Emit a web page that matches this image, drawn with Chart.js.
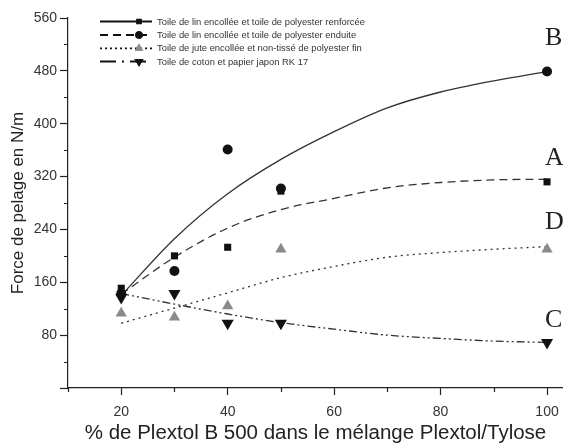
<!DOCTYPE html>
<html>
<head>
<meta charset="utf-8">
<script src="https://cdn.jsdelivr.net/npm/chart.js@4.4.0/dist/chart.umd.min.js"></script>
<style>
  html, body { margin: 0; padding: 0; background: #fff; }
  #wrap { width: 563px; height: 444px; position: relative; }
</style>
</head>
<body>
<div id="wrap"><canvas id="c" width="563" height="444"></canvas></div>
<script>
// ---- data ----
const xValues = [20, 30, 40, 50, 100];
const seriesRenforcee = [151, 200, 213, 298, 312];   // squares
const seriesEnduite   = [143, 177, 361, 302, 479];   // circles
const seriesJute      = [113, 107, 124, 210, 210];   // grey triangles
const seriesCoton     = [137, 143, 98, 98, 69];      // inverted triangles

const curveX = [20, 30, 40, 50, 60, 70, 80, 90, 100];
const curveB = [140, 226, 294, 346, 388, 424, 448, 465, 479];
const curveA = [142, 198, 242, 270, 287, 303, 311, 315, 316];
const curveD = [98, 121, 144, 167, 184, 198, 205, 210, 214];
const curveC = [143, 127, 112, 99, 89, 80, 75, 71, 69];

const curveLetters = ['B', 'A', 'D', 'C'];
const letterAnchorY = [530, 348, 251, 103];

const seriesLabels = [
  'Toile de lin encollée et toile de polyester renforcée',
  'Toile de lin encollée et toile de polyester enduite',
  'Toile de jute encollée et non-tissé de polyester fin',
  'Toile de coton et papier japon RK 17'
];

const xTickValues = [20, 40, 60, 80, 100];
const xMinorTicks = [10, 30, 50, 70, 90];
const yTickValues = [0, 80, 160, 240, 320, 400, 480, 560];
const yMinorTicks = [40, 120, 200, 280, 360, 440, 520];

const xTitle = '% de Plextol B 500 dans le mélange Plextol/Tylose';
const yTitle = 'Force de pelage en N/m';

// ---- styles ----
const AXIS = '#222';
const LINE = '#333';
const dashes = [[], [8, 5], [2, 4], [8, 3, 2, 3, 2, 3]];
const legendDashes = [[], [8, 5], [2, 3], [16, 6, 2, 6]];
const markerStyles = [
  { style: 'rect', rot: 0, color: '#111', r: 5 },
  { style: 'circle', rot: 0, color: '#111', r: 5 },
  { style: 'triangle', rot: 0, color: '#8a8a8a', r: 6.5 },
  { style: 'triangle', rot: 180, color: '#111', r: 7 }
];

function pts(xs, ys) { return xs.map((x, i) => ({ x: x, y: ys[i] })); }

const pointSeries = [seriesRenforcee, seriesEnduite, seriesJute, seriesCoton];
const curves = [curveB, curveA, curveD, curveC];

const datasets = [];
curves.forEach((cv, i) => {
  datasets.push({
    type: 'line',
    data: pts(curveX, cv),
    borderColor: LINE,
    borderWidth: 1.3,
    borderDash: dashes[i],
    pointRadius: 0,
    fill: false,
    cubicInterpolationMode: 'monotone',
    order: 2
  });
});
pointSeries.forEach((s, i) => {
  const m = markerStyles[i];
  datasets.push({
    type: 'scatter',
    label: seriesLabels[i],
    data: pts(xValues, s),
    showLine: false,
    pointStyle: m.style,
    rotation: m.rot,
    pointRadius: m.r,
    pointBackgroundColor: m.color,
    pointBorderColor: m.color,
    pointBorderWidth: 0,
    clip: false,
    order: 1
  });
});

const extrasPlugin = {
  id: 'extras',
  afterDraw(chart) {
    const ctx = chart.ctx;
    const xs = chart.scales.x, ys = chart.scales.y;
    const area = chart.chartArea;
    ctx.save();
    // minor ticks
    ctx.strokeStyle = AXIS;
    ctx.lineWidth = 1.2;
    ctx.beginPath();
    xMinorTicks.forEach(v => {
      const px = Math.round(xs.getPixelForValue(v)) + 0.5;
      ctx.moveTo(px, area.bottom);
      ctx.lineTo(px, area.bottom + 4);
    });
    yMinorTicks.forEach(v => {
      const py = Math.round(ys.getPixelForValue(v)) + 0.5;
      ctx.moveTo(area.left, py);
      ctx.lineTo(area.left - 4, py);
    });
    ctx.stroke();

    // curve letters
    ctx.fillStyle = '#222';
    ctx.font = '26px "Liberation Serif", "Times New Roman", serif';
    ctx.textBaseline = 'middle';
    ctx.textAlign = 'left';
    curveLetters.forEach((l, i) => {
      ctx.fillText(l, xs.getPixelForValue(100) - 2, ys.getPixelForValue(letterAnchorY[i]));
    });

    // legend
    const rowY = [21.5, 35, 48.3, 61.5];
    const lx0 = 100, lx1 = 152, mx = 139, tx = 157;
    ctx.font = '9.4px "Liberation Sans", Arial, sans-serif';
    seriesLabels.forEach((lab, i) => {
      const y = rowY[i];
      ctx.strokeStyle = '#111';
      ctx.lineWidth = 1.8;
      ctx.setLineDash(legendDashes[i]);
      ctx.beginPath();
      ctx.moveTo(lx0, y);
      ctx.lineTo(lx1, y);
      ctx.stroke();
      ctx.setLineDash([]);
      const m = markerStyles[i];
      ctx.fillStyle = m.color;
      Chart.helpers.drawPoint(ctx, {
        pointStyle: m.style, rotation: m.rot, radius: m.r * 0.75, borderWidth: 0
      }, mx, y);
      ctx.fill();
      ctx.fillStyle = '#333';
      ctx.fillText(lab, tx, y + 0.5);
    });
    ctx.restore();
  }
};

new Chart(document.getElementById('c'), {
  data: { datasets: datasets },
  options: {
    responsive: false,
    animation: false,
    events: [],
    layout: { autoPadding: false, padding: { top: 18, right: 0, left: 0, bottom: 0 } },
    plugins: { legend: { display: false }, tooltip: { enabled: false } },
    scales: {
      x: {
        type: 'linear',
        min: 10, max: 103,
        afterBuildTicks(scale) { scale.ticks = xTickValues.map(v => ({ value: v })); },
        afterFit(scale) { scale.height = 56; scale.paddingRight = 0; scale.paddingLeft = 0; },
        grid: { drawOnChartArea: false, drawTicks: true, tickLength: 7, tickColor: AXIS, tickWidth: 1.2 },
        border: { display: true, color: AXIS, width: 1.2 },
        ticks: {
          color: '#333', padding: 9, maxRotation: 0,
          font: { family: '"Liberation Sans", Arial, sans-serif', size: 14 },
          callback: v => String(v)
        },
        title: {
          display: true, text: xTitle, color: '#222',
          font: { family: '"Liberation Sans", Arial, sans-serif', size: 20.5, lineHeight: 1 },
          padding: { top: 0, bottom: 0 }
        }
      },
      y: {
        type: 'linear',
        min: 0, max: 560,
        afterBuildTicks(scale) { scale.ticks = yTickValues.map(v => ({ value: v })); },
        afterFit(scale) { scale.width = 68; },
        grid: { drawOnChartArea: false, drawTicks: true, tickLength: 8, tickColor: AXIS, tickWidth: 1.2 },
        border: { display: true, color: AXIS, width: 1.2 },
        ticks: {
          color: '#333', padding: 3,
          font: { family: '"Liberation Sans", Arial, sans-serif', size: 14 },
          callback: v => (v === 0 ? '' : String(v))
        },
        title: {
          display: true, text: yTitle, color: '#222',
          font: { family: '"Liberation Sans", Arial, sans-serif', size: 17, lineHeight: 1.2 },
          padding: { top: 8, bottom: 0 }
        }
      }
    }
  },
  plugins: [extrasPlugin]
});
</script>
</body>
</html>
